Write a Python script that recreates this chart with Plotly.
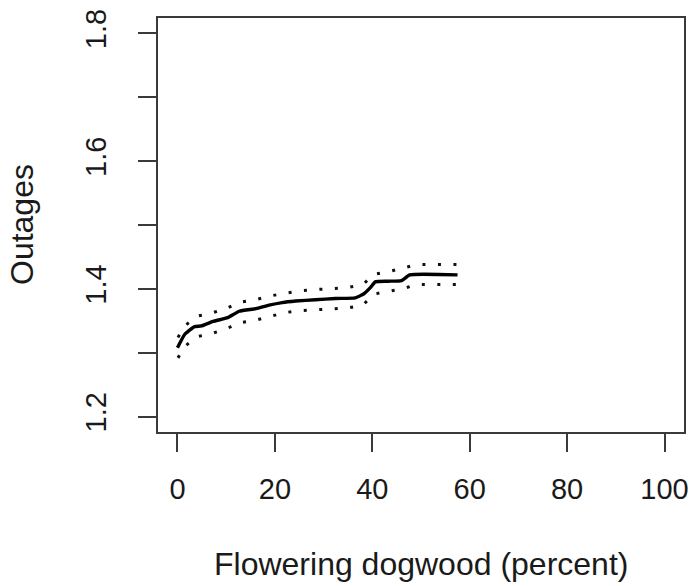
import plotly.graph_objects as go

# Fitted curve (solid) and confidence bounds (dotted)
fit_x = [0, 1.5, 3.5, 4.9, 7.3, 10.3, 12.7, 16.1, 18.8, 21.5, 24.3, 28.3, 32.4,
         36.5, 38.2, 39.6, 40.6, 43.3, 46.0, 47.7, 57.5]
fit_y = [1.308, 1.329, 1.341, 1.342, 1.349, 1.355, 1.365, 1.369, 1.3745, 1.3786,
         1.381, 1.383, 1.385, 1.386, 1.392, 1.402, 1.411, 1.412, 1.413, 1.422, 1.422]

band_x = [0.1, 1.5, 3.9, 6.9, 9.9, 12.7, 16.0, 19.0, 22.1, 25.3, 28.5, 31.7, 34.9,
          38.1, 40.4, 43.3, 46.2, 49.1, 52.5, 57.5]
upper_y = [1.324, 1.342, 1.357, 1.362, 1.369, 1.379, 1.383, 1.389, 1.393, 1.397,
           1.399, 1.400, 1.402, 1.407, 1.423, 1.427, 1.432, 1.438, 1.438, 1.438]
lower_y = [1.292, 1.310, 1.325, 1.330, 1.337, 1.347, 1.351, 1.357, 1.363, 1.366,
           1.367, 1.369, 1.370, 1.375, 1.392, 1.396, 1.400, 1.407, 1.407, 1.407]

x_ticks = [0, 20, 40, 60, 80, 100]
y_ticks = [1.2, 1.3, 1.4, 1.5, 1.6, 1.7, 1.8]
y_ticktext = ["1.2", "", "1.4", "", "1.6", "", "1.8"]

x_title = "Flowering dogwood (percent)"
y_title = "Outages"

FONT = "Liberation Sans, Arial, Helvetica, sans-serif"
AX = "#3a3a3a"

fig = go.Figure()
for yy in (upper_y, lower_y):
    fig.add_trace(go.Scatter(x=band_x, y=yy, mode="lines",
                             line=dict(color="#111111", width=3, dash="3px,12.5px"),
                             hoverinfo="skip", showlegend=False))
fig.add_trace(go.Scatter(x=fit_x, y=fit_y, mode="lines",
                         line=dict(color="#000000", width=3.4, shape="spline", smoothing=0.4),
                         showlegend=False))

axis_common = dict(showline=True, mirror=True, linecolor=AX, linewidth=2,
                   ticks="outside", ticklen=18, tickwidth=2, tickcolor=AX,
                   showgrid=False, zeroline=False,
                   tickfont=dict(family=FONT, size=29, color="#1a1a1a"))

fig.update_layout(
    width=698, height=586,
    margin=dict(l=158, r=9, t=15, b=154),
    paper_bgcolor="white", plot_bgcolor="white",
    xaxis=dict(range=[-4, 104], tickvals=x_ticks, ticklabelstandoff=12, **axis_common),
    yaxis=dict(range=[1.176, 1.824], tickvals=y_ticks, ticktext=y_ticktext,
               tickangle=-90, ticklabelstandoff=20, **axis_common),
    annotations=[
        dict(text=x_title, xref="paper", yref="paper", x=0.5, y=0,
             xanchor="center", yanchor="middle", yshift=-132, showarrow=False,
             font=dict(family=FONT, size=32, color="#1a1a1a")),
        dict(text=y_title, xref="paper", yref="paper", x=0, y=0.5,
             xanchor="center", yanchor="middle", xshift=-136, textangle=-90,
             showarrow=False, font=dict(family=FONT, size=32, color="#1a1a1a")),
    ],
)

fig.write_html("out.html")
